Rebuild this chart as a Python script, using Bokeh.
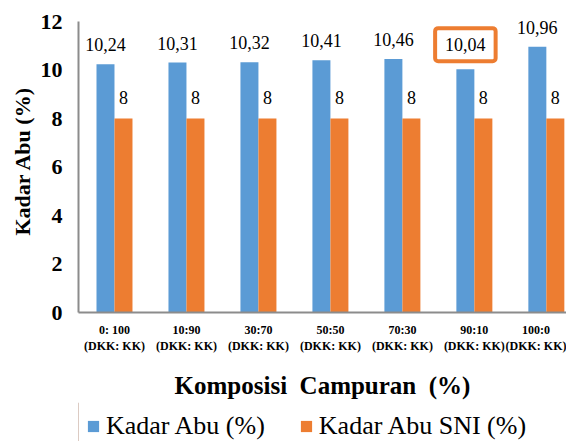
from bokeh.plotting import figure
from bokeh.layouts import column
from bokeh.models import (Range1d, FixedTicker, ColumnDataSource, LabelSet, Label,
                          Legend, LegendItem)
from bokeh.transform import dodge
from bokeh.embed import file_html
from bokeh.resources import INLINE

# ---- data ----
categories = ["0: 100", "10:90", "30:70", "50:50", "70:30", "90:10", "100:0"]
sub_label = "(DKK: KK)"
kadar_abu = [10.24, 10.31, 10.32, 10.41, 10.46, 10.04, 10.96]
kadar_abu_sni = [8, 8, 8, 8, 8, 8, 8]
highlight_index = 5
y_ticks = [0, 2, 4, 6, 8, 10, 12]
series_names = ["Kadar Abu (%)", "Kadar Abu SNI (%)"]

BLUE = "#5B9BD5"
ORANGE = "#ED7D31"
SERIF = "Liberation Serif"
NB = "\u00a0"

xs = list(range(1, len(categories) + 1))
abu_lbl = [f"{v:.2f}".replace(".", ",") for v in kadar_abu]
abu_lbl_plain = [("" if i == highlight_index else t) for i, t in enumerate(abu_lbl)]
sni_lbl = [f"{v:g}".replace(".", ",") for v in kadar_abu_sni]

src = ColumnDataSource(dict(x=xs, abu=kadar_abu, sni=kadar_abu_sni,
                            abu_lbl=abu_lbl_plain, sni_lbl=sni_lbl))

p = figure(frame_width=488, frame_height=303, output_backend="svg", toolbar_location=None,
           x_range=Range1d(0.5, 7.28), y_range=Range1d(0, 12.5),
           min_border_left=78, min_border_top=9, min_border_right=0,
           min_border_bottom=0)
p.outline_line_color = None
p.xgrid.grid_line_color = None
p.ygrid.grid_line_color = None
p.background_fill_color = "white"
p.border_fill_color = "white"

r1 = p.vbar(x=dodge("x", -0.125, range=p.x_range), top="abu", width=0.25,
            source=src, fill_color=BLUE, line_color=None)
r2 = p.vbar(x=dodge("x", 0.125, range=p.x_range), top="sni", width=0.25,
            source=src, fill_color=ORANGE, line_color=None)

p.add_layout(LabelSet(x=dodge("x", -0.125, range=p.x_range), y="abu", text="abu_lbl",
                      source=src, text_align="center", text_baseline="bottom",
                      y_offset=13, text_font=SERIF, text_font_size="18px",
                      text_color="black"))
p.add_layout(LabelSet(x=dodge("x", 0.125, range=p.x_range), y="sni", text="sni_lbl",
                      source=src, text_align="center", text_baseline="bottom",
                      y_offset=15, text_font=SERIF, text_font_size="18px",
                      text_color="black"))

hx = xs[highlight_index] - 0.125
p.add_layout(Label(x=hx, y=kadar_abu[highlight_index], text=abu_lbl[highlight_index],
                   text_align="center", text_baseline="bottom", y_offset=8,
                   text_font=SERIF, text_font_size="18px", text_color="black",
                   border_line_color=ORANGE, border_line_width=4,
                   border_radius=3, padding=(10, 10),
                   background_fill_color="white"))

# axes
xa = p.xaxis[0]
xa.ticker = FixedTicker(ticks=xs)
xa.major_label_overrides = {x: f"{c}\n{sub_label}" for x, c in zip(xs, categories)}
xa.major_label_text_font = SERIF
xa.major_label_text_font_size = "12px"
xa.major_label_text_font_style = "bold"
xa.major_label_text_color = "black"
xa.major_label_standoff = 4
xa.axis_line_color = "#8c8c8c"
xa.axis_line_width = 2
xa.major_tick_line_color = None
xa.minor_tick_line_color = None
xa.axis_label = f"Komposisi{NB}{NB}Campuran{NB}{NB}(%)"
xa.axis_label_text_font = SERIF
xa.axis_label_text_font_size = "25px"
xa.axis_label_text_font_style = "bold"
xa.axis_label_text_color = "black"
xa.axis_label_standoff = 16

ya = p.yaxis[0]
ya.ticker = FixedTicker(ticks=y_ticks)
ya.bounds = (0, 12)
ya.major_label_text_font = SERIF
ya.major_label_text_font_size = "22px"
ya.major_label_text_font_style = "bold"
ya.major_label_text_color = "black"
ya.major_label_standoff = 10
ya.axis_line_color = "#8c8c8c"
ya.axis_line_width = 2
ya.major_tick_line_color = None
ya.minor_tick_line_color = None
ya.axis_label = "Kadar Abu (%)"
ya.axis_label_text_font = SERIF
ya.axis_label_text_font_size = "22px"
ya.axis_label_text_font_style = "bold"
ya.axis_label_text_color = "black"
ya.axis_label_standoff = 3

# legend strip (separate small figure under the chart); proxy glyphs lie off-range
lg = figure(width=566, height=50, output_backend="svg", toolbar_location=None,
            x_range=Range1d(0, 1), y_range=Range1d(0, 1),
            x_axis_type=None, y_axis_type=None,
            min_border_left=0, min_border_right=0, min_border_top=0,
            min_border_bottom=0)
lg.outline_line_color = None
lg.xgrid.grid_line_color = None
lg.ygrid.grid_line_color = None
lr1 = lg.vbar(x=[-5], top=[1], width=0.1, fill_color=BLUE, line_color=None)
lr2 = lg.vbar(x=[-5], top=[1], width=0.1, fill_color=ORANGE, line_color=None)
legend = Legend(items=[LegendItem(label=series_names[0], renderers=[lr1]),
                       LegendItem(label=series_names[1], renderers=[lr2])],
                orientation="horizontal", location=(8, 11),
                label_text_font=SERIF, label_text_font_size="26px",
                label_text_color="black", glyph_width=14, glyph_height=14,
                label_standoff=6, spacing=34, border_line_color=None,
                background_fill_alpha=0, padding=0, margin=0,
                label_height=26)
lg.add_layout(legend, "center")

open("out.html", "w").write(file_html(column(p, lg, spacing=0), INLINE))
